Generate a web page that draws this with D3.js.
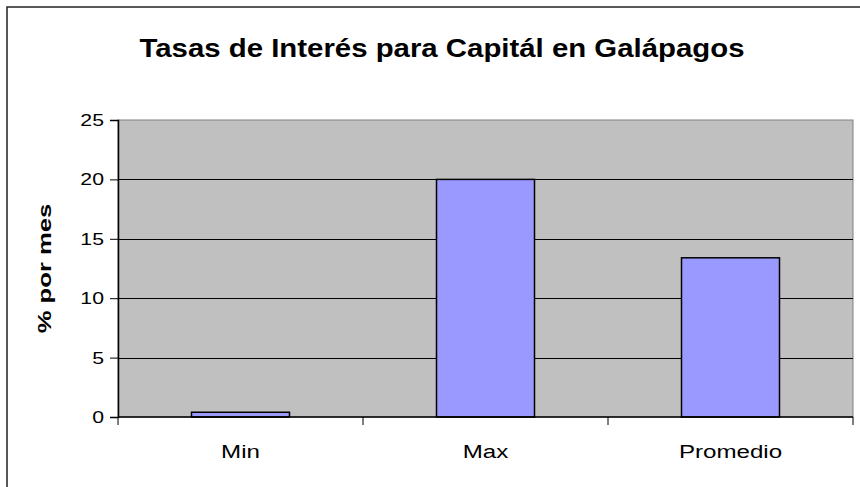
<!DOCTYPE html>
<html>
<head>
<meta charset="utf-8">
<script src="https://cdn.jsdelivr.net/npm/d3@7"></script>
<style>
  body { margin: 0; background: #fff; }
  svg { display: block; font-family: "Liberation Sans", Arial, sans-serif; }
</style>
</head>
<body>
<svg width="860" height="487"></svg>
<script>
const categories = ['Min', 'Max', 'Promedio'];
const values = [0.4, 20, 13.4];
const yTicks = [0, 5, 10, 15, 20, 25];
const title = 'Tasas de Interés para Capitál en Galápagos';
const yLabel = '% por mes';

const svg = d3.select('svg');
const width = +svg.attr('width');
const height = +svg.attr('height');

// outer chart frame (runs off the right and bottom edge)
svg.append('rect')
  .attr('x', 7).attr('y', 7)
  .attr('width', 870).attr('height', 500)
  .attr('fill', '#fff')
  .attr('stroke', '#222')
  .attr('stroke-width', 1.5);

const margin = {top: 120, left: 118, right: 7, bottom: 70};
const innerW = 853 - margin.left;
const innerH = 417 - margin.top;

const g = svg.append('g')
  .attr('transform', `translate(${margin.left},${margin.top})`);

const x = d3.scaleBand()
  .domain(categories)
  .range([0, innerW])
  .paddingInner(0.6)
  .paddingOuter(0.3);

const y = d3.scaleLinear()
  .domain([0, 25])
  .range([innerH, 0]);

// the original text is drawn a bit wider than normal
const wideText = (sel, px, py, sx, rot) => sel.append('text')
  .attr('transform', `translate(${px},${py})${rot ? ` rotate(${rot})` : ''} scale(${sx},1)`);

// plot background
g.append('rect')
  .attr('width', innerW).attr('height', innerH)
  .attr('fill', '#c0c0c0')
  .attr('stroke', '#808080')
  .attr('stroke-width', 1);

// gridlines
g.append('g')
  .selectAll('line')
  .data(yTicks.filter(t => t > 0 && t < 25))
  .enter().append('line')
  .attr('x1', 0).attr('x2', innerW)
  .attr('y1', d => Math.round(y(d)) + 0.5)
  .attr('y2', d => Math.round(y(d)) + 0.5)
  .attr('stroke', '#000')
  .attr('stroke-width', 1);

// bars
g.selectAll('rect.bar').data(values)
  .enter().append('rect')
  .attr('class', 'bar')
  .attr('x', (d, i) => x(categories[i]))
  .attr('y', d => y(d))
  .attr('width', x.bandwidth())
  .attr('height', d => innerH - y(d))
  .attr('fill', '#9999ff')
  .attr('stroke', '#000')
  .attr('stroke-width', 1.5);

// y axis
const yAxis = g.append('g')
  .call(d3.axisLeft(y).tickValues(yTicks).tickSize(8).tickFormat(''));
yAxis.select('.domain').attr('stroke', '#000').attr('stroke-width', 1.5);
yTicks.forEach(t => {
  wideText(g, -14, y(t) + 6, 1.25)
    .attr('text-anchor', 'end')
    .style('font-size', '17px')
    .text(t);
});

// x axis: ticks sit between categories
const xAxis = g.append('g')
  .attr('transform', `translate(0,${innerH})`);
xAxis.append('line')
  .attr('x1', 0).attr('x2', innerW)
  .attr('stroke', '#000').attr('stroke-width', 1.5);
const step = innerW / categories.length;
xAxis.selectAll('line.tk')
  .data(d3.range(categories.length + 1))
  .enter().append('line')
  .attr('class', 'tk')
  .attr('x1', d => d * step).attr('x2', d => d * step)
  .attr('y1', 0).attr('y2', 8)
  .attr('stroke', '#000');
categories.forEach(c => {
  wideText(xAxis, x(c) + x.bandwidth() / 2, 41, 1.27)
    .attr('text-anchor', 'middle')
    .style('font-size', '19px')
    .text(c);
});

// titles
wideText(svg, 442, 57, 1.13)
  .attr('text-anchor', 'middle')
  .style('font-size', '26px')
  .style('font-weight', 'bold')
  .text(title);

wideText(svg, 51, margin.top + innerH / 2, 1.35, -90)
  .attr('text-anchor', 'middle')
  .style('font-size', '19px')
  .style('font-weight', 'bold')
  .text(yLabel);
</script>
</body>
</html>
